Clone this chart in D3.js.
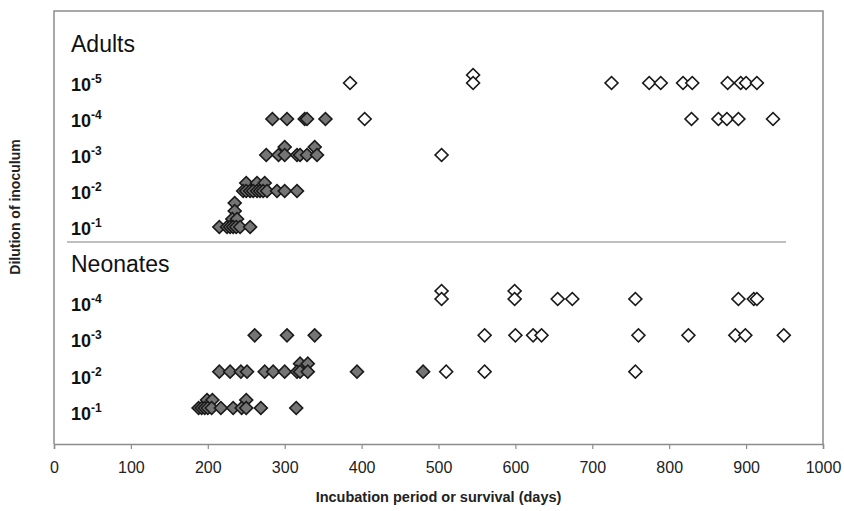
<!DOCTYPE html>
<html>
<head>
<meta charset="utf-8">
<script src="https://cdn.jsdelivr.net/npm/d3@7"></script>
<style>
  body { margin: 0; background: #fff; }
  svg { font-family: "Liberation Sans", Arial, sans-serif; }
</style>
</head>
<body>
<svg width="844" height="511"></svg>
<script>
// each point: [dilution exponent, days, stack level]
// filled = clinical disease (incubation period), open = survived
const adultsSick = [
  [-4, 284, 0], [-4, 303, 0], [-4, 326, 0], [-4, 329, 0], [-4, 353, 0],
  [-3, 276, 0], [-3, 292, 0], [-3, 300, 1], [-3, 300, 0], [-3, 316, 0], [-3, 320, 0],
  [-3, 329, 0], [-3, 339, 1], [-3, 342, 0],
  [-2, 250, 1], [-2, 264, 1], [-2, 274, 1],
  [-2, 246, 0], [-2, 250, 0], [-2, 255, 0], [-2, 259, 0], [-2, 264, 0], [-2, 268, 0],
  [-2, 272, 0], [-2, 277, 0], [-2, 290, 0], [-2, 300, 0], [-2, 316, 0],
  [-1, 235, 3], [-1, 235, 2], [-1, 232, 1], [-1, 238, 1],
  [-1, 215, 0], [-1, 225, 0], [-1, 229, 0], [-1, 233, 0], [-1, 237, 0], [-1, 242, 0], [-1, 255, 0]
];
const adultsSurvived = [
  [-5, 385, 0], [-5, 545, 1], [-5, 545, 0], [-5, 725, 0], [-5, 774, 0], [-5, 789, 0],
  [-5, 818, 0], [-5, 830, 0], [-5, 876, 0], [-5, 893, 0], [-5, 900, 0], [-5, 914, 0],
  [-4, 404, 0], [-4, 829, 0], [-4, 864, 0], [-4, 875, 0], [-4, 890, 0], [-4, 935, 0],
  [-3, 504, 0]
];
const neonatesSick = [
  [-3, 261, 0], [-3, 303, 0], [-3, 339, 0],
  [-2, 320, 1], [-2, 330, 1],
  [-2, 215, 0], [-2, 229, 0], [-2, 243, 0], [-2, 251, 0], [-2, 274, 0], [-2, 285, 0],
  [-2, 300, 0], [-2, 316, 0], [-2, 320, 0], [-2, 330, 0], [-2, 394, 0], [-2, 480, 0],
  [-1, 199, 1], [-1, 206, 1], [-1, 250, 1],
  [-1, 188, 0], [-1, 192, 0], [-1, 196, 0], [-1, 200, 0], [-1, 205, 0], [-1, 217, 0],
  [-1, 233, 0], [-1, 244, 0], [-1, 250, 0], [-1, 269, 0], [-1, 315, 0]
];
const neonatesSurvived = [
  [-4, 504, 1], [-4, 504, 0], [-4, 599, 1], [-4, 599, 0], [-4, 655, 0], [-4, 674, 0],
  [-4, 756, 0], [-4, 890, 0], [-4, 910, 0], [-4, 914, 0],
  [-3, 560, 0], [-3, 600, 0], [-3, 623, 0], [-3, 634, 0], [-3, 760, 0], [-3, 825, 0],
  [-3, 886, 0], [-3, 899, 0], [-3, 949, 0],
  [-2, 510, 0], [-2, 560, 0], [-2, 756, 0]
];
const adultDilutions = [-5, -4, -3, -2, -1];
const neonateDilutions = [-4, -3, -2, -1];
const xTicks = d3.range(0, 1001, 100);

var svg = d3.select("svg");

var x = d3.scaleLinear().domain([0, 1000]).range([54, 823]);
var yAdults = d3.scaleLinear().domain([-5, -1]).range([83, 227]);
var yNeo = d3.scaleLinear().domain([-4, -1]).range([299, 408]);

var frameColor = "#8c8c8c";

// frame (left, top, right)
svg.append("path")
    .attr("d", `M${x(0)},444V11H${x(1000)}V444`)
    .attr("fill", "none")
    .attr("stroke", frameColor)
    .attr("stroke-width", 1.5);

// separator between the two panels
svg.append("line")
    .attr("x1", 67).attr("x2", 786)
    .attr("y1", 242).attr("y2", 242)
    .attr("stroke", "#aaa")
    .attr("stroke-width", 1.5);

// x axis
var xAxis = svg.append("g")
    .attr("transform", "translate(0,444)")
    .call(d3.axisBottom(x).tickValues(xTicks).tickSize(5).tickPadding(13).tickFormat(d3.format("d")));
xAxis.select(".domain").attr("stroke", frameColor).attr("stroke-width", 1.5);
xAxis.selectAll(".tick line").attr("stroke", frameColor).attr("stroke-width", 1.2);
xAxis.selectAll(".tick text")
    .attr("font-size", 16)
    .attr("font-family", "Liberation Sans, Arial, sans-serif")
    .attr("fill", "#222");

svg.append("text")
    .attr("x", (x(0) + x(1000)) / 2)
    .attr("y", 502)
    .attr("text-anchor", "middle")
    .attr("font-weight", "bold")
    .attr("font-size", 14.5)
    .attr("fill", "#222")
    .text("Incubation period or survival (days)");

svg.append("text")
    .attr("transform", "translate(20,207) rotate(-90)")
    .attr("text-anchor", "middle")
    .attr("font-weight", "bold")
    .attr("font-size", 14)
    .attr("fill", "#222")
    .text("Dilution of inoculum");

// panel titles
svg.append("text").attr("x", 71).attr("y", 52)
    .attr("font-size", 23).attr("fill", "#111").text("Adults");
svg.append("text").attr("x", 71).attr("y", 272)
    .attr("font-size", 23).attr("fill", "#111").text("Neonates");

// row labels 10^-n
function rowLabels(dils, scale, dy) {
    var t = svg.selectAll(null)
        .data(dils)
        .enter().append("text")
        .attr("x", 71)
        .attr("y", d => scale(d) + dy)
        .attr("font-weight", "bold")
        .attr("font-size", 18)
        .attr("fill", "#111");
    t.append("tspan").text("10");
    t.append("tspan").attr("dy", -8).attr("font-size", 12).text(d => d);
}
rowLabels(adultDilutions, yAdults, 8);
rowLabels(neonateDilutions, yNeo, 12);

// diamonds
var diamond = d3.symbol().type(d3.symbolSquare).size(84);
function drawPoints(data, scale, fill) {
    svg.append("g").selectAll("path")
        .data(data)
        .enter().append("path")
        .attr("d", diamond)
        .attr("transform", d => `translate(${x(d[1])},${scale(d[0]) - d[2] * 8}) rotate(45)`)
        .attr("fill", fill)
        .attr("stroke", "#1a1a1a")
        .attr("stroke-width", 1.6);
}
drawPoints(adultsSick, yAdults, "#757575");
drawPoints(adultsSurvived, yAdults, "#fff");
drawPoints(neonatesSick, yNeo, "#757575");
drawPoints(neonatesSurvived, yNeo, "#fff");
</script>
</body>
</html>
